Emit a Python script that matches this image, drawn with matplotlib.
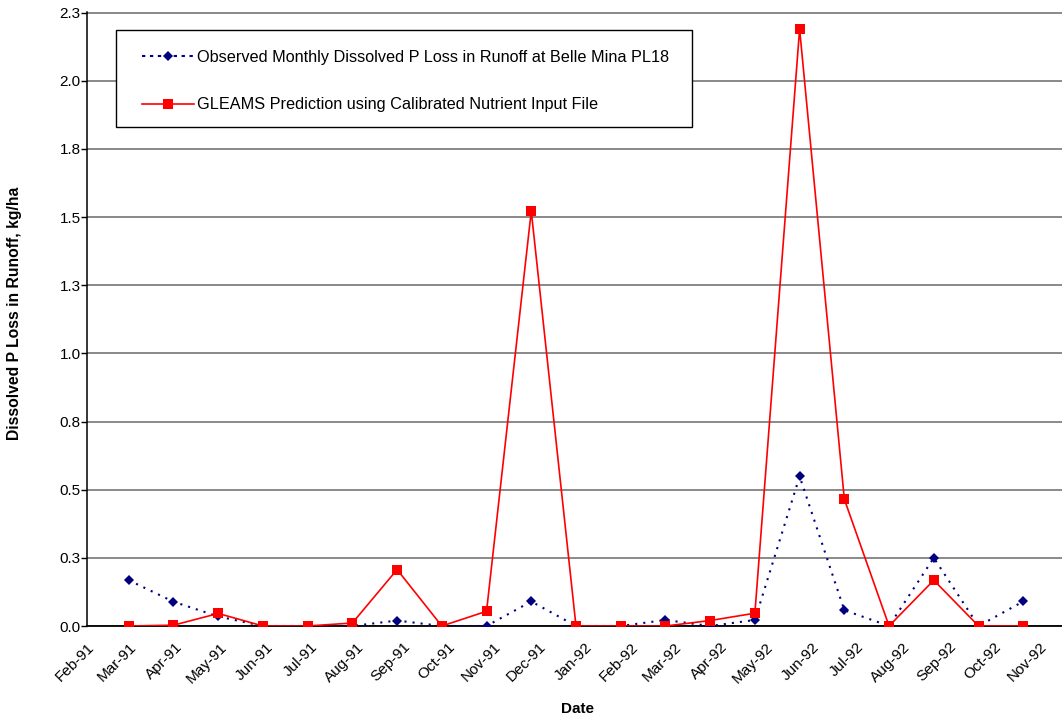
import matplotlib
matplotlib.use("Agg")
import matplotlib.pyplot as plt
import matplotlib.dates as mdates
import numpy as np
from matplotlib.patches import Rectangle
from matplotlib.transforms import ScaledTranslation

plt.rcParams['font.family'] = ['Liberation Sans', 'DejaVu Sans']

# ---- data ----
point_dates = ["1991-03-01", "1991-03-31", "1991-04-30", "1991-05-30", "1991-06-29",
               "1991-07-29", "1991-08-28", "1991-09-27", "1991-10-27", "1991-11-26",
               "1991-12-26", "1992-01-25", "1992-02-24", "1992-03-25", "1992-04-24",
               "1992-05-24", "1992-06-23", "1992-07-23", "1992-08-22", "1992-09-21",
               "1992-10-21"]
observed = [0.168, 0.089, 0.035, 0.0, 0.0, 0.0, 0.02, 0.0, 0.0, 0.09,
            0.0, 0.0, 0.022, 0.0, 0.022, 0.549, 0.058, 0.0, 0.25, 0.0, 0.09]
gleams = [0.0, 0.003, 0.046, 0.0, 0.0, 0.011, 0.207, 0.0, 0.054, 1.522,
          0.0, 0.0, 0.0, 0.02, 0.047, 2.19, 0.465, 0.0, 0.168, 0.0, 0.0]

tick_dates = ["1991-02-01", "1991-03-01", "1991-04-01", "1991-05-01", "1991-06-01",
              "1991-07-01", "1991-08-01", "1991-09-01", "1991-10-01", "1991-11-01",
              "1991-12-01", "1992-01-01", "1992-02-01", "1992-03-01", "1992-04-01",
              "1992-05-01", "1992-06-01", "1992-07-01", "1992-08-01", "1992-09-01",
              "1992-10-01", "1992-11-01"]
tick_labels = ["Feb-91", "Mar-91", "Apr-91", "May-91", "Jun-91", "Jul-91", "Aug-91",
               "Sep-91", "Oct-91", "Nov-91", "Dec-91", "Jan-92", "Feb-92", "Mar-92",
               "Apr-92", "May-92", "Jun-92", "Jul-92", "Aug-92", "Sep-92", "Oct-92",
               "Nov-92"]
y_ticks = [0.0, 0.25, 0.5, 0.75, 1.0, 1.25, 1.5, 1.75, 2.0, 2.25]
y_tick_labels = ["0.0", "0.3", "0.5", "0.8", "1.0", "1.3", "1.5", "1.8", "2.0", "2.3"]
x_range = ["1991-02-06", "1992-11-16"]

label_obs = "Observed Monthly Dissolved P Loss in Runoff at Belle Mina PL18"
label_gleams = "GLEAMS Prediction using Calibrated Nutrient Input File"


def to_num(ds):
    return np.array([mdates.datestr2num(d) for d in ds])


W, H = 1062, 721
fig = plt.figure(figsize=(W / 100, H / 100), dpi=100)
ax_left, ax_right, ax_top, ax_bottom = 87, 1062, 12, 626
ax = fig.add_axes([ax_left / W, 1 - ax_bottom / H, (ax_right - ax_left) / W, (ax_bottom - ax_top) / H])

xp = to_num(point_dates)
navy = "#000080"
red = "#FF0000"

ax.plot(xp, observed, color=navy, lw=1.5, linestyle=(0, (1.0, 2.9)), zorder=3)
ax.plot(xp, observed, linestyle="none", marker="D", ms=5.1, mew=0, color=navy, zorder=4)
ax.plot(xp, gleams, color=red, lw=1.2, marker="s", ms=7, mew=0, zorder=5)

ax.set_xlim(to_num(x_range))
ax.set_ylim(0, 2.2525)
ax.set_yticks(y_ticks)
ax.set_yticklabels(y_tick_labels, fontsize=11)
ax.set_xticks(to_num(tick_dates))
ax.set_xticklabels(tick_labels, fontsize=11, rotation=45, ha="right", va="top",
                   rotation_mode="anchor")
offset = ScaledTranslation(2 / 100, 0, fig.dpi_scale_trans)
for lbl in ax.get_xticklabels():
    lbl.set_transform(lbl.get_transform() + offset)

ax.tick_params(axis="x", length=0, pad=10)
ax.tick_params(axis="y", length=4, width=1, color="black", pad=0.5)

ax.yaxis.grid(True, color="#808080", lw=1.3)
ax.set_axisbelow(True)
for s in ["top", "right"]:
    ax.spines[s].set_visible(False)
ax.spines["left"].set_color("black")
ax.spines["left"].set_linewidth(1.1)
ax.spines["bottom"].set_color("black")
ax.spines["bottom"].set_linewidth(1.3)

ax.set_ylabel("Dissolved P Loss in Runoff, kg/ha", fontsize=11.3, fontweight="bold")
ax.yaxis.set_label_coords((22 - ax_left) / (ax_right - ax_left), 0.51)
ax.set_xlabel("Date", fontsize=11, fontweight="bold", va="top")
ax.xaxis.set_label_coords((578 - ax_left) / (ax_right - ax_left), -(702 - ax_bottom) / (ax_bottom - ax_top))

# legend frame
aw, ah = ax_right - ax_left, ax_bottom - ax_top
lx0, ly0, lx1, ly1 = 116, 30, 692, 127
rect = Rectangle(((lx0 - ax_left) / aw, 1 - (ly1 - ax_top) / ah), (lx1 - lx0) / aw, (ly1 - ly0) / ah,
                 transform=ax.transAxes, facecolor="white", edgecolor="black", lw=1.0, zorder=6)
ax.add_patch(rect)

h1, = ax.plot([], [], color=navy, lw=1.5, linestyle=(0, (1.6, 2.2)), marker="D", ms=5.1, mew=0)
h2, = ax.plot([], [], color=red, lw=1.2, marker="s", ms=7, mew=0)
leg = ax.legend([h1, h2], [label_obs, label_gleams], loc="upper left", frameon=False,
                bbox_to_anchor=((142 - ax_left) / aw, 1 - (50 - ax_top) / ah),
                borderaxespad=0, borderpad=0, handlelength=3.2, handletextpad=0.18,
                labelspacing=2.0, fontsize=11.7, numpoints=1)
leg.set_zorder(7)

fig.savefig("out.png", dpi=100)
